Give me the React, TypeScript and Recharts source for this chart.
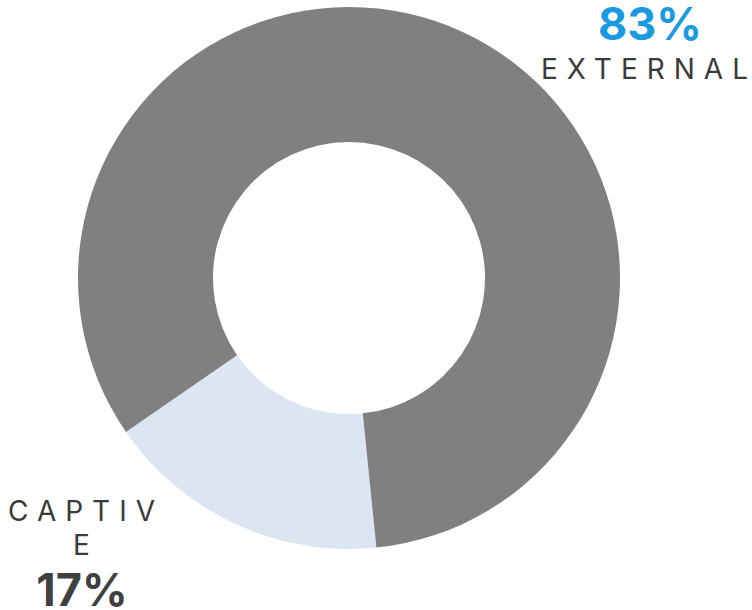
import React from 'react';
import { PieChart, Pie, Cell } from 'recharts';

const segments = ['CAPTIVE', 'EXTERNAL'];
const shares = [17, 83];
const colors = ['#dce6f2', '#808080'];

const data = segments.map((name, i) => ({ name, value: shares[i] }));

const font = 'Inter, "Noto Sans", sans-serif';

export default function App() {
  return (
    <div style={{ position: 'absolute', left: 0, top: 0, width: 752, height: 610, fontFamily: font }}>
      <PieChart width={752} height={610} margin={{ top: 0, right: 0, bottom: 0, left: 0 }}>
        <Pie
          data={data}
          dataKey="value"
          nameKey="name"
          cx={349}
          cy={278}
          innerRadius={136}
          outerRadius={271}
          startAngle={214.6}
          endAngle={574.6}
          stroke="none"
          isAnimationActive={false}
        >
          {data.map((d, i) => (
            <Cell key={d.name} fill={colors[i]} />
          ))}
        </Pie>
      </PieChart>

      {/* external label, top right */}
      <div
        style={{
          position: 'absolute',
          left: 550,
          width: 200,
          top: 1,
          textAlign: 'center',
          fontSize: 45,
          lineHeight: 1,
          fontWeight: 700,
          color: '#1a9ae0',
        }}
      >
        {shares[1]}%
      </div>
      <div
        style={{
          position: 'absolute',
          left: 541,
          top: 54.5,
          fontSize: 28,
          lineHeight: 1,
          letterSpacing: 9,
          color: '#3a3a3a',
          whiteSpace: 'nowrap',
        }}
      >
        {segments[1]}
      </div>

      {/* captive label, bottom left */}
      <div
        style={{
          position: 'absolute',
          left: -3,
          width: 170,
          top: 494,
          textAlign: 'center',
          fontSize: 28,
          lineHeight: '34px',
          letterSpacing: 9,
          color: '#3a3a3a',
          wordBreak: 'break-all',
          paddingLeft: 4,
        }}
      >
        {segments[0]}
      </div>
      <div
        style={{
          position: 'absolute',
          left: 0,
          width: 164,
          top: 567,
          textAlign: 'center',
          fontSize: 45,
          lineHeight: 1,
          fontWeight: 700,
          color: '#404040',
        }}
      >
        {shares[0]}%
      </div>
    </div>
  );
}
